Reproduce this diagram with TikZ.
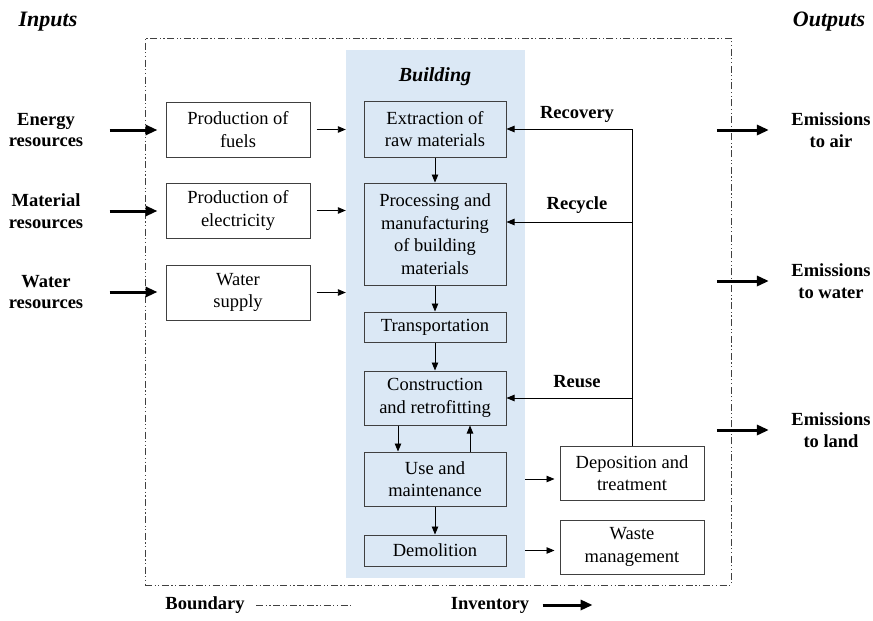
\documentclass[tikz,border=0pt]{standalone}
\usepackage{fontspec}
\setmainfont{Liberation Serif}
\usetikzlibrary{arrows.meta}
\definecolor{bldgblue}{RGB}{219,232,245}
\begin{document}
\begin{tikzpicture}[x=1pt,y=-1pt,
	font=\fontsize{18.5}{22.5}\selectfont,
	box/.style={draw=black!75, line width=1pt, align=center, inner sep=0pt, minimum width=142pt},
	lbl/.style={font=\fontsize{18.5}{21.5}\selectfont\bfseries, align=center},
	head/.style={font=\fontsize{22}{24}\selectfont\bfseries\itshape},
	flow/.style={-{Triangle[length=8pt,width=6.5pt]}, line width=0.9pt},
	inv/.style={-{Triangle[length=12pt,width=10pt]}, line width=3pt},
	bound/.style={draw=black!75, line width=1pt, dash pattern=on 7pt off 2.5pt on 1.2pt off 2.5pt on 1.2pt off 2.5pt}]
	\useasboundingbox (0,0) rectangle (873,621);
	\node[bound, minimum width=586pt, minimum height=547pt] (bnd) at (438,311.5) {};
	\node[fill=bldgblue, minimum width=179pt, minimum height=528pt] (bldg) at (435.5,314) {};
	\node[head] (in) at (48,22) {Inputs};
	\node[head] (out) at (829,22) {Outputs};
	\node[head, font=\fontsize{20}{22}\selectfont\bfseries\itshape] (bt) at (435,77) {Building};
	\node[lbl] (energy) at (46,130) {Energy\\resources};
	\node[lbl] (material) at (46,211) {Material\\resources};
	\node[lbl] (water) at (46,292) {Water\\resources};
	\node[box, minimum height=55pt, minimum width=144pt] (fuels) at (238,129.5) {Production of\\fuels};
	\node[box, minimum height=55pt, minimum width=144pt] (elec) at (238,210.5) {Production of\\electricity};
	\node[box, minimum height=55pt, minimum width=144pt] (supply) at (238,292.5) {Water\\supply};
	\node[box, minimum height=56pt] (extr) at (435,129) {Extraction of\\raw materials};
	\node[box, minimum height=102pt] (proc) at (435,234) {Processing and\\manufacturing\\of building\\materials};
	\node[box, minimum height=30pt] (trans) at (435,327) {Transportation};
	\node[box, minimum height=54pt] (constr) at (435,398) {Construction\\and retrofitting};
	\node[box, minimum height=54pt] (use) at (435,479) {Use and\\maintenance};
	\node[box, minimum height=31pt] (demo) at (435,550.5) {Demolition};
	\node[box, minimum height=54pt, minimum width=144pt] (depo) at (632,473) {Deposition and\\treatment};
	\node[box, minimum height=54pt, minimum width=144pt] (waste) at (632,547) {Waste\\management};
	\node[lbl] (recov) at (577,114) {Recovery};
	\node[lbl] (recyc) at (577,205) {Recycle};
	\node[lbl] (reuse) at (577,382) {Reuse};
	\node[lbl] (air) at (831,130) {Emissions\\to air};
	\node[lbl] (wat) at (831,281) {Emissions\\to water};
	\node[lbl] (land) at (831,430) {Emissions\\to land};
	\node[lbl] (bleg) at (205,605) {Boundary};
	\node[lbl] (ileg) at (490,605) {Inventory};
	% inputs
	\draw[inv] ([xshift=23]energy.east) -- ([xshift=-8]energy.east -| fuels.west);
	\draw[inv] ([xshift=23]material.east) -- ([xshift=-8]material.east -| elec.west);
	\draw[inv] ([xshift=23]water.east) -- ([xshift=-8]water.east -| supply.west);
	\draw[flow] ([xshift=6]fuels.east) -- (fuels.east -| bldg.west);
	\draw[flow] ([xshift=6]elec.east) -- (elec.east -| bldg.west);
	\draw[flow] ([xshift=6]supply.east) -- (supply.east -| bldg.west);
	% life cycle
	\draw[flow] (extr) -- (proc);
	\draw[flow] (proc) -- (trans);
	\draw[flow] (trans) -- (constr);
	\draw[flow] ([xshift=-37]constr.south) -- ([xshift=-37]use.north);
	\draw[flow] ([xshift=35]use.north) -- ([xshift=35]constr.south);
	\draw[flow] (use) -- (demo);
	\draw[flow] (use.east -| bldg.east) -- ([xshift=-5]use.east -| depo.west);
	\draw[flow] (demo.east -| bldg.east) -- ([xshift=-5]demo.east -| waste.west);
	% feedback
	\draw[flow] (depo.north) -- (depo.north |- extr.east) -- (extr.east);
	\draw[flow] ([yshift=12]proc.east -| depo.north) -- ([yshift=12]proc.east);
	\draw[flow] (constr.east -| depo.north) -- (constr.east);
	% outputs
	\draw[inv] ([xshift=-71]air.west) -- ([xshift=-19]air.west);
	\draw[inv] ([xshift=-71]wat.west) -- ([xshift=-19]wat.west);
	\draw[inv] ([xshift=-71]land.west) -- ([xshift=-19]land.west);
	% legend
	\draw[bound] ([xshift=8]bleg.east) -- ++(95,0);
	\draw[inv] ([xshift=10]ileg.east) -- ++(50,0);
\end{tikzpicture}
\end{document}
